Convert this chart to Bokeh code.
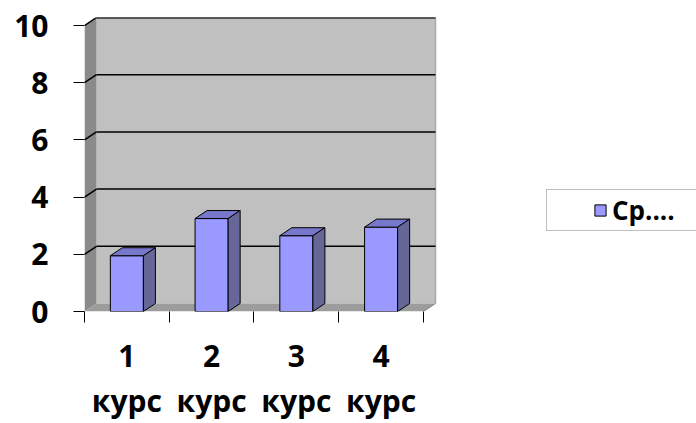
import numpy as np
from bokeh.plotting import figure
from bokeh.models import FixedTicker, Range1d, Legend, LegendItem
from bokeh.embed import file_html
from bokeh.resources import INLINE

# ---- data ----
categories = ["1 курс", "2 курс", "3 курс", "4 курс"]
values = [1.95, 3.25, 2.65, 2.95]
y_ticks = [0, 2, 4, 6, 8, 10]
series_name = "Ср...."

# ---- layout constants ----
n = len(categories)
xc = np.arange(1, n + 1, dtype=float)
vals = np.array(values, dtype=float)
DX = 0.1416   # depth offset (category units)
DY = 0.28     # depth offset (value units)
HW = 0.195    # half bar width
EXTRA = 3.08  # blank room right of the chart, holds the legend (category units)
y_max = max(y_ticks)
x0, x1 = 0.5, n + 0.5

FONT = "Open Sans"

p = figure(width=696, height=423, output_backend="svg", toolbar_location=None,
           x_range=Range1d(x0, x1 + DX + EXTRA), y_range=Range1d(0, y_max + DY),
           min_border_left=84, min_border_right=0, min_border_top=17,
           min_border_bottom=112)
p.outline_line_color = None
p.background_fill_color = "white"
p.border_fill_color = "white"
p.xgrid.visible = False
p.ygrid.visible = False

# back wall
p.quad(left=x0 + DX, right=x1 + DX, bottom=DY, top=y_max + DY,
       fill_color="#C0C0C0", line_color=None)
p.segment(x0=x1 + DX, y0=DY, x1=x1 + DX, y1=y_max + DY,
          line_color="#A8A8A8", line_width=1.5)
# left wall
p.patch(x=[x0, x0 + DX, x0 + DX, x0], y=[0, DY, y_max + DY, y_max],
        fill_color="#8A8A8A", line_color=None)
# floor
p.patch(x=[x0, x1, x1 + DX, x0 + DX], y=[0, 0, DY, DY],
        fill_color="#9C9C9C", line_color=None)
p.segment(x0=[x1], y0=[0], x1=[x1 + DX], y1=[DY], line_color="#808080", line_width=1)

# gridlines on walls
gv = np.array([t for t in y_ticks if t > 0], dtype=float)
p.segment(x0=[x0 + DX] * len(gv), y0=gv + DY, x1=[x1 + DX] * len(gv), y1=gv + DY,
          line_color="black", line_width=1.5)
p.segment(x0=[x0] * len(gv), y0=gv, x1=[x0 + DX] * len(gv), y1=gv + DY,
          line_color="black", line_width=1.5)
p.segment(x0=[x0 + DX], y0=[y_max + DY], x1=[x1 + DX], y1=[y_max + DY],
          line_color="#404040", line_width=2.5)

# bars
L = xc - HW
R = xc + HW
front = p.quad(left=L, right=R, bottom=0, top=vals,
               fill_color="#9999FF", line_color="black", line_width=1)
p.patches(xs=[[l, r, r + DX, l + DX] for l, r in zip(L, R)],
          ys=[[v, v, v + DY, v + DY] for v in vals],
          fill_color="#7777CC", line_color="black", line_width=1)
p.patches(xs=[[r, r + DX, r + DX, r] for r in R],
          ys=[[0, DY, v + DY, v] for v in vals],
          fill_color="#666699", line_color="black", line_width=1)

# y axis
ya = p.yaxis[0]
ya.ticker = FixedTicker(ticks=y_ticks)
ya.axis_line_color = None
ya.major_tick_out = 11
ya.major_tick_in = 0
ya.major_tick_line_color = "black"
ya.minor_tick_line_color = None
ya.major_label_standoff = 25
ya.major_label_text_font = FONT
ya.major_label_text_font_size = "30px"
ya.major_label_text_font_style = "bold"
ya.major_label_text_color = "black"

# x axis
xa = p.xaxis[0]
xa.ticker = FixedTicker(ticks=list(xc), minor_ticks=list(xc - 0.5) + [x1])
xa.axis_line_color = None
xa.major_tick_line_color = None
xa.major_tick_out = 11
xa.major_tick_in = 0
xa.minor_tick_line_color = "black"
xa.minor_tick_out = 11
xa.minor_tick_in = 0
xa.major_label_overrides = {float(i + 1): c.replace(" ", "\n") for i, c in enumerate(categories)}
xa.major_label_standoff = 12
xa.major_label_text_font = FONT
xa.major_label_text_font_size = "30px"
xa.major_label_text_font_style = "bold"
xa.major_label_text_color = "black"
xa.major_label_text_line_height = 1.1

# legend
pad_l = p.quad(left=[], right=[], bottom=[], top=[], fill_alpha=0, line_alpha=0)
pad_r = p.quad(left=[], right=[], bottom=[], top=[], fill_alpha=0, line_alpha=0)
legend = Legend(items=[LegendItem(label=" ", renderers=[pad_l]),
                       LegendItem(label=series_name, renderers=[front]),
                       LegendItem(label=" ", renderers=[pad_r])],
                orientation="horizontal", location=(462, 80),
                glyph_width=14, glyph_height=14, label_standoff=5,
                label_width=20, spacing=5, padding=2, margin=0,
                border_line_color="#808080", border_line_width=1,
                background_fill_color="white", background_fill_alpha=1,
                label_text_font=FONT, label_text_font_style="bold",
                label_text_font_size="26px", label_text_color="black")
p.add_layout(legend)

open("out.html", "w").write(file_html(p, INLINE))
